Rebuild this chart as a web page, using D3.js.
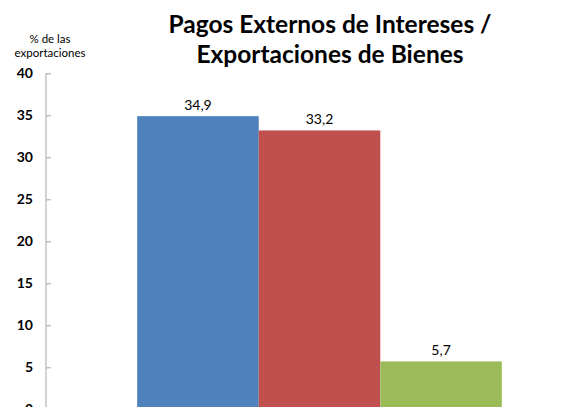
<!DOCTYPE html>
<html>
<head>
<meta charset="utf-8">
<script src="https://cdn.jsdelivr.net/npm/d3@7"></script>
<style>
  body { margin: 0; background: #fff; }
  svg text { font-family: Lato, "Open Sans", sans-serif; }
</style>
</head>
<body>
<div id="chart"></div>
<script>
// data
var series = ["Serie 1", "Serie 2", "Serie 3"];
var values = [34.9, 33.2, 5.7];
var colors = ["#4F81BD", "#C0504D", "#9BBB59"];
var yTicks = [0, 5, 10, 15, 20, 25, 30, 35, 40];
var titleLines = ["Pagos Externos de Intereses /", "Exportaciones de Bienes"];
var yTitleLines = ["% de las", "exportaciones"];

var W = 582, H = 407;
var svg = d3.select("#chart").append("svg").attr("width", W).attr("height", H);

var x = d3.scaleBand().domain(series).range([46, 593]).paddingInner(0).paddingOuter(0.75);
var y = d3.scaleLinear().domain([0, 40]).range([409.3, 73.3]);

// title
svg.selectAll(".title").data(titleLines).enter().append("text")
  .attr("class", "title")
  .attr("x", 330).attr("y", function(d, i) { return 33 + i * 29.5; })
  .attr("text-anchor", "middle")
  .style("font-size", "24.5px").style("font-weight", "bold").attr("fill", "#000")
  .text(function(d) { return d; });

// y axis title
svg.selectAll(".ytitle").data(yTitleLines).enter().append("text")
  .attr("class", "ytitle")
  .attr("x", 50).attr("y", function(d, i) { return 43 + i * 14; })
  .attr("text-anchor", "middle")
  .style("font-size", "11.5px").attr("fill", "#000")
  .text(function(d) { return d; });

// bars
svg.selectAll(".bar").data(values).enter().append("rect")
  .attr("class", "bar")
  .attr("x", function(d, i) { return x(series[i]); })
  .attr("width", x.bandwidth())
  .attr("y", function(d) { return y(d); })
  .attr("height", function(d) { return y(0) - y(d); })
  .attr("fill", function(d, i) { return colors[i]; });

// value labels
svg.selectAll(".val").data(values).enter().append("text")
  .attr("class", "val")
  .attr("x", function(d, i) { return x(series[i]) + x.bandwidth() / 2; })
  .attr("y", function(d) { return y(d) - 6; })
  .attr("text-anchor", "middle")
  .style("font-size", "14px").attr("fill", "#000")
  .text(function(d) { return d3.format(".1f")(d).replace(".", ","); });

// y axis
var yAxis = d3.axisRight(y).tickValues(yTicks).tickSize(5).tickFormat("");
var gy = svg.append("g").attr("transform", "translate(46,0)").call(yAxis);
gy.select(".domain").attr("stroke", "#a6a6a6").attr("d", "M0," + y(40) + "V" + y(0));
gy.selectAll(".tick line").attr("stroke", "#a6a6a6");

// tick labels (0 sits at the bottom edge, partly cut as in the original)
svg.selectAll(".ylab").data(yTicks).enter().append("text")
  .attr("class", "ylab")
  .attr("x", 33).attr("y", function(d) { return y(d); })
  .attr("dy", "0.35em")
  .attr("text-anchor", "end")
  .style("font-size", "14px").style("font-weight", "bold").attr("fill", "#000")
  .text(function(d) { return d; });
</script>
</body>
</html>
